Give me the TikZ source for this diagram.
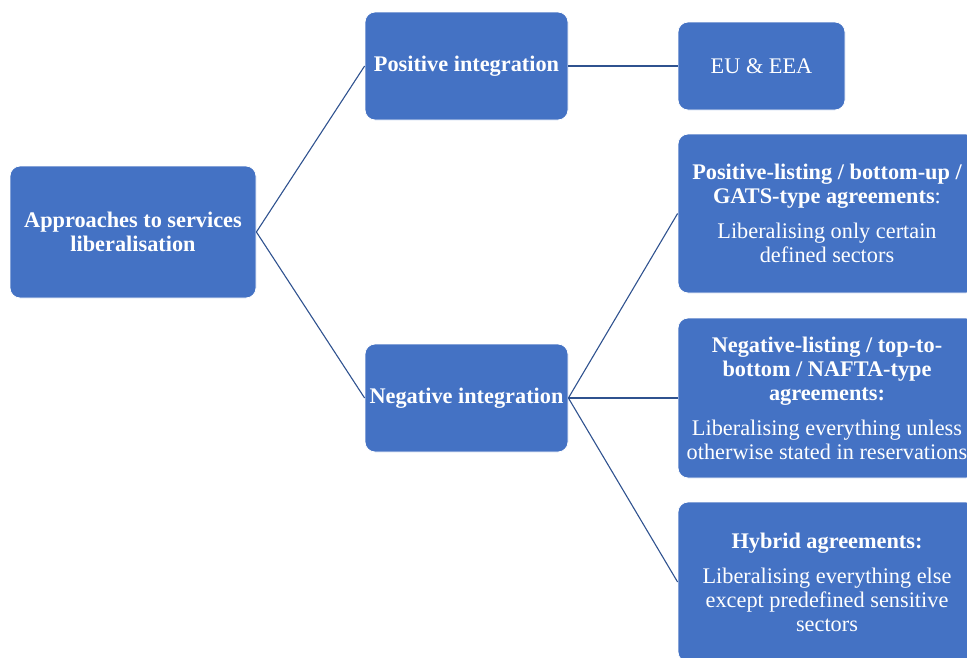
\documentclass[tikz,border=0pt]{standalone}
\usepackage{fontspec}
\setmainfont{Liberation Serif}
\definecolor{boxblue}{HTML}{4472C4}
\definecolor{lineblue}{HTML}{2F528F}
\begin{document}
\begin{tikzpicture}[x=1pt,y=-1pt,
  box/.style={draw=white, line width=0.8pt, fill=boxblue, rounded corners=10pt,
    text=white, align=center, font=\fontsize{22.3}{24}\selectfont, inner sep=0pt},
  conn/.style={draw=lineblue, line width=1.1pt}]
\useasboundingbox (0,0) rectangle (967,657);
\clip (0,0) rectangle (967,657);
\node[box, minimum width=246pt, minimum height=132pt] (root) at (133,232)
  {\bfseries Approaches to services\\\bfseries liberalisation};
\node[box, minimum width=203pt, minimum height=108pt] (pos) at (466.5,66)
  {\bfseries Positive integration};
\node[box, minimum width=203pt, minimum height=108pt] (neg) at (466.5,398)
  {\bfseries Negative integration};
\node[box, minimum width=167pt, minimum height=88pt] (eu) at (761.5,66)
  {EU \& EEA};
\node[box, minimum width=298pt, minimum height=159pt] (pl) at (827,213.5)
  {\bfseries Positive-listing / bottom-up /\\\textbf{GATS-type agreements}:\\[11pt]
   Liberalising only certain\\defined sectors};
\node[box, minimum width=298pt, minimum height=160pt] (nl) at (827,398)
  {\bfseries Negative-listing / top-to-\\\bfseries bottom / NAFTA-type\\\bfseries agreements:\\[11pt]
   Liberalising everything unless\\otherwise stated in reservations};
\node[box, minimum width=298pt, minimum height=160pt] (hy) at (827,582)
  {\bfseries Hybrid agreements:\\[11pt]
   Liberalising everything else\\except predefined sensitive\\sectors};
\draw[conn] (root.east) -- (pos.west);
\draw[conn] (root.east) -- (neg.west);
\draw[conn] (pos.east) -- (eu.west);
\draw[conn] (neg.east) -- (pl.west);
\draw[conn] (neg.east) -- (nl.west);
\draw[conn] (neg.east) -- (hy.west);
\end{tikzpicture}
\end{document}
